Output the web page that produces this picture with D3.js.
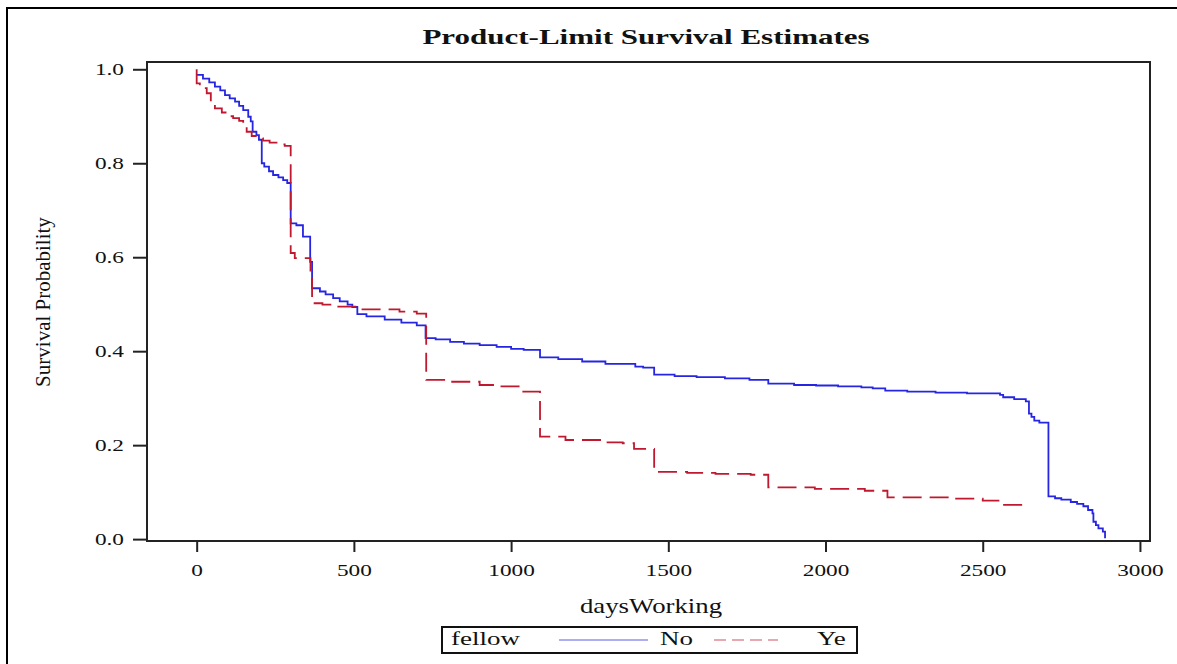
<!DOCTYPE html>
<html>
<head>
<meta charset="utf-8">
<script src="https://cdn.jsdelivr.net/npm/d3@7"></script>
<style>
  body { margin: 0; background: #fff; }
  text { font-family: "Liberation Serif", "Times New Roman", serif; fill: #111; }
</style>
</head>
<body>
<script>
// survival steps: day of the step, survival after it
var noDays = [0, 20, 40, 58, 75, 90, 105, 122, 135, 148, 164, 172, 178, 190, 198, 207, 215, 230, 243, 260, 275, 288,
  299, 317, 338, 361, 367, 392, 410, 434, 455, 480, 495, 511, 540, 598, 651, 700, 728, 760, 806, 850, 900, 954, 1000,
  1040, 1092, 1150, 1226, 1300, 1395, 1420, 1455, 1520, 1590, 1680, 1758, 1818, 1900, 1970, 2040, 2114, 2150, 2190,
  2260, 2350, 2450, 2555, 2565, 2600, 2637, 2647, 2655, 2664, 2680, 2709, 2730, 2750, 2780, 2800, 2820, 2835, 2849,
  2852, 2860, 2868, 2882, 2889];
var noSurv = [0.988, 0.980, 0.972, 0.963, 0.955, 0.945, 0.938, 0.931, 0.922, 0.913, 0.899, 0.889, 0.867, 0.860, 0.850,
  0.800, 0.793, 0.783, 0.775, 0.770, 0.764, 0.758, 0.672, 0.668, 0.644, 0.590, 0.534, 0.527, 0.521, 0.513, 0.506, 0.499,
  0.494, 0.479, 0.474, 0.467, 0.461, 0.455, 0.428, 0.425, 0.420, 0.416, 0.413, 0.409, 0.405, 0.403, 0.387, 0.383, 0.378,
  0.373, 0.367, 0.365, 0.350, 0.347, 0.345, 0.342, 0.339, 0.331, 0.328, 0.327, 0.325, 0.323, 0.321, 0.316, 0.314, 0.312,
  0.310, 0.307, 0.302, 0.298, 0.293, 0.267, 0.260, 0.252, 0.248, 0.091, 0.087, 0.084, 0.079, 0.075, 0.070, 0.062, 0.055,
  0.037, 0.030, 0.023, 0.016, 0.002];

var yeDays = [0, 0, 10, 32, 45, 58, 80, 100, 116, 135, 148, 159, 175, 190, 211, 232, 260, 280, 299, 312, 362, 367, 400,
  434, 512, 645, 700, 730, 806, 900, 954, 1028, 1092, 1173, 1299, 1355, 1391, 1455, 1470, 1560, 1650, 1762, 1818, 1966,
  2125, 2197, 2400, 2500, 2555, 2627];
var yeSurv = [1.000, 0.970, 0.960, 0.949, 0.930, 0.917, 0.908, 0.900, 0.896, 0.890, 0.881, 0.867, 0.858, 0.853, 0.848,
  0.844, 0.840, 0.837, 0.609, 0.598, 0.560, 0.502, 0.499, 0.495, 0.489, 0.484, 0.480, 0.339, 0.335, 0.328, 0.325, 0.314,
  0.218, 0.211, 0.206, 0.204, 0.192, 0.145, 0.143, 0.141, 0.139, 0.137, 0.110, 0.107, 0.103, 0.089, 0.086, 0.082, 0.073,
  0.073];

var xTicks = [0, 500, 1000, 1500, 2000, 2500, 3000];
var yTicks = [0, 0.2, 0.4, 0.6, 0.8, 1.0];
var groupNames = ["No", "Ye"];

var blue = "#2626e2", red = "#c0182f";
var stretch = 1.37;   // the picture's text is wider than plain Times

var svg = d3.select("body").append("svg").attr("width", 1177).attr("height", 664);

// outer frame (only left and top edges fall inside the picture)
svg.append("rect").attr("x", 7).attr("y", 8).attr("width", 1200).attr("height", 700)
   .attr("fill", "none").attr("stroke", "#000").attr("stroke-width", 2);

var x = d3.scaleLinear().domain([-158, 3032]).range([147, 1150]);
var y = d3.scaleLinear().domain([-0.004, 1.0155]).range([541, 62]);

function wideText(px, py, str, size, anchor, weight, sx) {
    return svg.append("text").text(str)
              .attr("transform", "translate(" + px + "," + py + ") scale(" + sx + ",1)")
              .attr("text-anchor", anchor)
              .attr("font-size", size)
              .attr("font-weight", weight);
}

// title
wideText(646, 44, "Product-Limit Survival Estimates", 22, "middle", "bold", 1.41);

// axes
var yAxis = svg.append("g").attr("transform", "translate(147,0)")
               .call(d3.axisLeft(y).tickValues(yTicks).tickFormat(d3.format(".1f")).tickSize(14));
yAxis.select(".domain").remove();
yAxis.selectAll("line").attr("stroke", "#222").attr("stroke-width", 2);
yAxis.selectAll("text").attr("x", null).attr("font-size", 17).attr("font-family", null)
     .attr("transform", "translate(-23,0) scale(" + stretch + ",1)");

var xAxis = svg.append("g").attr("transform", "translate(0,541)")
               .call(d3.axisBottom(x).tickValues(xTicks).tickFormat(d3.format("d")).tickSize(11));
xAxis.select(".domain").remove();
xAxis.selectAll("line").attr("stroke", "#222").attr("stroke-width", 2);
xAxis.selectAll("text").attr("y", null).attr("dy", null).attr("font-size", 17).attr("font-family", null)
     .attr("transform", "translate(0,35) scale(" + stretch + ",1)");

// axis titles
wideText(651, 613, "daysWorking", 20, "middle", "normal", 1.34);
svg.append("text").text("Survival Probability")
   .attr("transform", "translate(50,302) rotate(-90)")
   .attr("text-anchor", "middle")
   .attr("font-size", 21);

// survival curves
var stepLine = d3.line()
                 .x(function(d) { return x(d[0]); })
                 .y(function(d) { return y(d[1]); })
                 .curve(d3.curveStepAfter);

svg.append("path").datum(d3.zip(noDays, noSurv))
   .attr("d", stepLine)
   .attr("fill", "none").attr("stroke", blue).attr("stroke-width", 1.8);

svg.append("path").datum(d3.zip(yeDays, yeSurv))
   .attr("d", stepLine)
   .attr("fill", "none").attr("stroke", red).attr("stroke-width", 1.8)
   .attr("stroke-dasharray", "19,8");

// plot frame
svg.append("rect").attr("x", 147).attr("y", 62).attr("width", 1003).attr("height", 479)
   .attr("fill", "none").attr("stroke", "#222").attr("stroke-width", 2);

// legend
svg.append("rect").attr("x", 442).attr("y", 627).attr("width", 415).attr("height", 26)
   .attr("fill", "none").attr("stroke", "#111").attr("stroke-width", 2);
wideText(451, 645, "fellow", 19, "start", "normal", 1.42);

svg.append("line").attr("x1", 559).attr("x2", 648).attr("y1", 640).attr("y2", 640)
   .attr("stroke", blue).attr("stroke-width", 1.2).attr("opacity", 0.75);
wideText(660, 645, groupNames[0], 19, "start", "normal", 1.42);

svg.append("line").attr("x1", 714).attr("x2", 778).attr("y1", 640).attr("y2", 640)
   .attr("stroke", red).attr("stroke-width", 1.2).attr("opacity", 0.75)
   .attr("stroke-dasharray", "12,6");
wideText(817, 645, groupNames[1], 19, "start", "normal", 1.42);
</script>
</body>
</html>
